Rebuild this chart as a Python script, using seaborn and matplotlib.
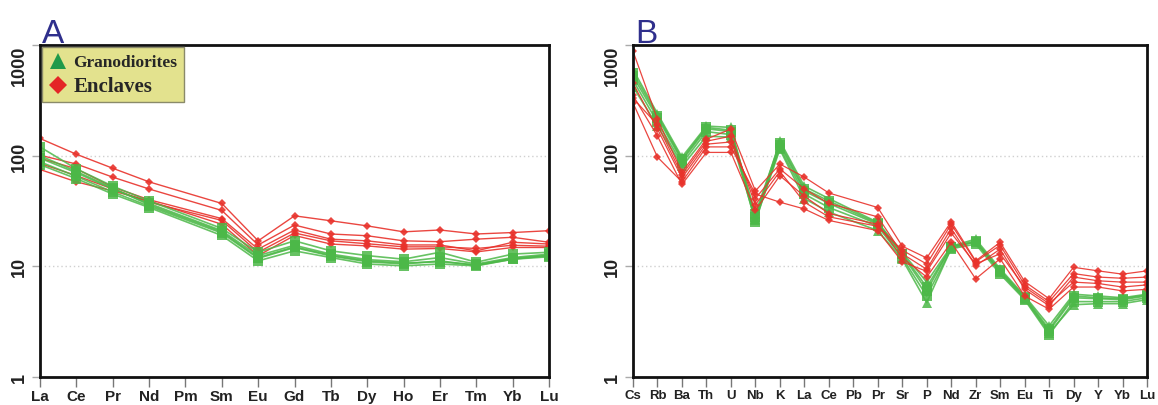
import numpy as np
import pandas as pd
import matplotlib
matplotlib.use("Agg")
import matplotlib.pyplot as plt
from matplotlib.lines import Line2D
import seaborn as sns

# ---------------- data ----------------
ree_elements = ["La", "Ce", "Pr", "Nd", "Pm", "Sm", "Eu", "Gd", "Tb", "Dy", "Ho", "Er", "Tm", "Yb", "Lu"]
nan = np.nan
# Panel A: chondrite-normalised REE (Pm not analysed)
ree_enclaves = [
    [143, 103, 77, 58, nan, 37, 17.0, 28.6, 25.8, 23.2, 20.5, 21.3, 19.6, 20.2, 21.0],
    [101, 84, 64, 50, nan, 32, 15.6, 23.6, 19.6, 18.9, 17.0, 16.7, 17.6, 18.3, 16.5],
    [95, 76, 52, 40, nan, 27, 14.3, 21.3, 17.6, 17.0, 15.6, 15.6, 13.8, 16.5, 15.9],
    [85, 66, 50, 38, nan, 26, 13.4, 20.0, 17.0, 16.0, 15.0, 15.0, 14.5, 15.5, 15.2],
    [75, 58, 48, 39, nan, 24, 12.5, 19.0, 15.9, 15.3, 14.3, 14.5, 13.5, 14.8, 14.8],
]
ree_granodiorites = [
    [120, 76, 53, 39, nan, 22.0, 13.4, 17.0, 13.8, 12.5, 11.6, 13.4, 10.9, 12.9, 13.4],
    [100, 72, 51, 36, nan, 20.5, 12.0, 15.0, 12.6, 11.2, 10.7, 11.0, 10.3, 11.8, 12.6],
    [95, 70, 50, 37, nan, 21.0, 12.5, 15.5, 12.9, 11.5, 11.0, 12.0, 10.5, 12.0, 12.9],
    [88, 65, 47, 35, nan, 20.0, 11.8, 14.8, 12.4, 11.0, 10.5, 11.2, 10.2, 11.6, 12.5],
    [83, 62, 45, 34, nan, 19.0, 11.2, 13.8, 12.0, 10.5, 10.1, 10.5, 10.1, 11.6, 12.2],
]

spider_elements = ["Cs", "Rb", "Ba", "Th", "U", "Nb", "K", "La", "Ce", "Pb", "Pr", "Sr",
                   "P", "Nd", "Zr", "Sm", "Eu", "Ti", "Dy", "Y", "Yb", "Lu"]
# Panel B: primitive-mantle-normalised trace elements (Pb not plotted)
spider_enclaves = [
    [880, 213, 71, 141, 174, 48, 84, 64, 46, nan, 34, 15.2, 11.9, 25.3, 11.2, 16.5, 7.3, 5.1, 9.8, 9.1, 8.5, 9.1],
    [450, 174, 63, 127, 133, 41, 76, 50, 37, nan, 28, 13.0, 9.4, 22.0, 10.1, 14.3, 6.2, 4.4, 8.0, 7.4, 7.2, 7.2],
    [350, 150, 55, 107, 107, 32, 66, 43, 30, nan, 24, 12.0, 8.0, 16.5, 7.7, 11.7, 5.4, 4.1, 6.5, 6.5, 6.0, 6.2],
    [300, 97, 58, 120, 120, 45, 38, 33, 26, nan, 21, 11.0, 9.0, 20.0, 10.5, 13.0, 6.5, 4.6, 7.2, 7.0, 6.5, 6.8],
    [330, 190, 67, 135, 150, 36, 72, 38, 28, nan, 23, 14.0, 10.5, 24.0, 11.0, 15.5, 6.8, 4.8, 8.6, 8.0, 7.8, 8.0],
]
spider_granodiorites = [
    [600, 240, 97, 185, 180, 27, 136, 53, 41, nan, 25.0, 13.4, 7.2, 15.2, 17.6, 9.5, 5.4, 2.9, 5.6, 5.4, 5.2, 5.6],
    [560, 230, 93, 180, 170, 30, 130, 50, 39, nan, 24.5, 13.0, 6.5, 15.0, 17.0, 9.2, 5.3, 2.7, 5.4, 5.2, 5.1, 5.5],
    [520, 220, 90, 175, 165, 25, 125, 48, 37, nan, 24.0, 12.8, 6.0, 15.0, 16.5, 9.0, 5.2, 2.6, 5.2, 5.1, 5.0, 5.4],
    [480, 200, 85, 165, 155, 28, 118, 45, 34, nan, 23.0, 12.0, 5.4, 14.4, 15.9, 8.5, 5.0, 2.4, 4.8, 4.8, 4.8, 5.2],
    [420, 185, 80, 150, 147, 26, 114, 41, 31, nan, 21.0, 11.6, 4.7, 14.5, 16.8, 8.8, 5.1, 2.5, 4.5, 4.6, 4.6, 5.0],
]
spider_gd_markers = ["^", "s", "s", "s", "^"]

legend_labels = ["Granodiorites", "Enclaves"]
panel_letters = ["A", "B"]
y_ticks = [1, 10, 100, 1000]

RED = "#e8322b"
GREEN = "#4cb848"

# ---------------- figure ----------------
sns.set_theme(style="white")
plt.rcParams["font.family"] = ["Liberation Sans", "DejaVu Sans"]

fig = plt.figure(figsize=(11.58, 4.06), dpi=100)
axA = fig.add_axes([40 / 1158, 1 - 378 / 406, 509 / 1158, 332 / 406])
axB = fig.add_axes([633 / 1158, 1 - 378 / 406, 514 / 1158, 332 / 406])


def to_long(rows, prefix):
    recs = []
    for i, row in enumerate(rows):
        for j, v in enumerate(row):
            if not np.isnan(v):
                recs.append({"pos": j, "value": v, "sample": f"{prefix}{i}"})
    return pd.DataFrame(recs)


def draw(ax, rows, prefix, color, markers, msize, lw, alpha):
    for i, row in enumerate(rows):
        df = to_long([row], f"{prefix}{i}_")
        sns.lineplot(data=df, x="pos", y="value", units="sample", estimator=None,
                     color=color, marker=markers[i], markersize=msize,
                     markeredgewidth=0, linewidth=lw, alpha=alpha, ax=ax,
                     legend=False)


# Panel A
draw(axA, ree_enclaves, "eA", RED, ["D"] * 5, 4.5, 1.0, 0.9)
draw(axA, ree_granodiorites, "gA", GREEN, ["s"] * 5, 6.5, 1.2, 0.85)
# Panel B
draw(axB, spider_granodiorites, "gB", GREEN, spider_gd_markers, 6.5, 1.2, 0.85)
draw(axB, spider_enclaves, "eB", RED, ["D"] * 5, 4.5, 0.9, 0.9)

for ax, elements, letter, xfs in zip([axA, axB], [ree_elements, spider_elements],
                                     panel_letters, [11, 9.5]):
    ax.set_yscale("log")
    ax.set_ylim(1, 1000)
    ax.set_xlim(0, len(elements) - 1)
    ax.set_xticks(range(len(elements)))
    ax.set_xticklabels(elements, fontsize=xfs, fontweight="bold", color="#222222")
    ax.set_yticks(y_ticks)
    ax.set_yticklabels([str(t) for t in y_ticks], fontsize=13, fontweight="bold",
                       rotation=90, color="#222222")
    ax.yaxis.set_minor_locator(matplotlib.ticker.NullLocator())
    lbls = ax.get_yticklabels()
    for lab in lbls:
        lab.set_va("center")
    lbls[-1].set_va("top")
    ax.set_xlabel("")
    ax.set_ylabel("")
    ax.tick_params(axis="x", direction="out", length=7, width=1, color="#777777", pad=2,
                   bottom=True)
    ax.tick_params(axis="y", direction="out", length=6, width=1, color="#aaaaaa", pad=3,
                   left=True)
    ax.grid(axis="y", which="major", linestyle=(0, (1, 2)), color="#d0d0d0", linewidth=1)
    ax.grid(axis="x", visible=False)
    for sp in ax.spines.values():
        sp.set_visible(True)
        sp.set_color("#111111")
        sp.set_linewidth(2)
    ax.set_facecolor("white")
    fig.text(ax.get_position().x0 + 0.002, 1 - 43 / 406, letter, fontsize=24,
             color="#2f2f8c", ha="left", va="baseline")

# Legend in panel A
handles = [
    Line2D([], [], linestyle="none", marker="^", markersize=11, color="#1f9a4a", markeredgewidth=0),
    Line2D([], [], linestyle="none", marker="D", markersize=9, color="#e42626", markeredgewidth=0),
]
leg = axA.legend(handles, legend_labels, loc="upper left", borderaxespad=0.15,
                 frameon=True, fancybox=False, facecolor="#e3e28e", edgecolor="#8a8a6a",
                 framealpha=1, handletextpad=0.4, handlelength=1.2, borderpad=0.45,
                 labelspacing=0.35)
leg.get_frame().set_linewidth(1.0)
t0, t1 = leg.get_texts()
t0.set_fontfamily(["Liberation Serif"])
t0.set_fontweight("bold")
t0.set_fontsize(12.5)
t0.set_fontstretch("condensed")
t1.set_fontfamily(["Liberation Serif"])
t1.set_fontweight("bold")
t1.set_fontsize(15)

fig.savefig("out.png", dpi=100, facecolor="white")
